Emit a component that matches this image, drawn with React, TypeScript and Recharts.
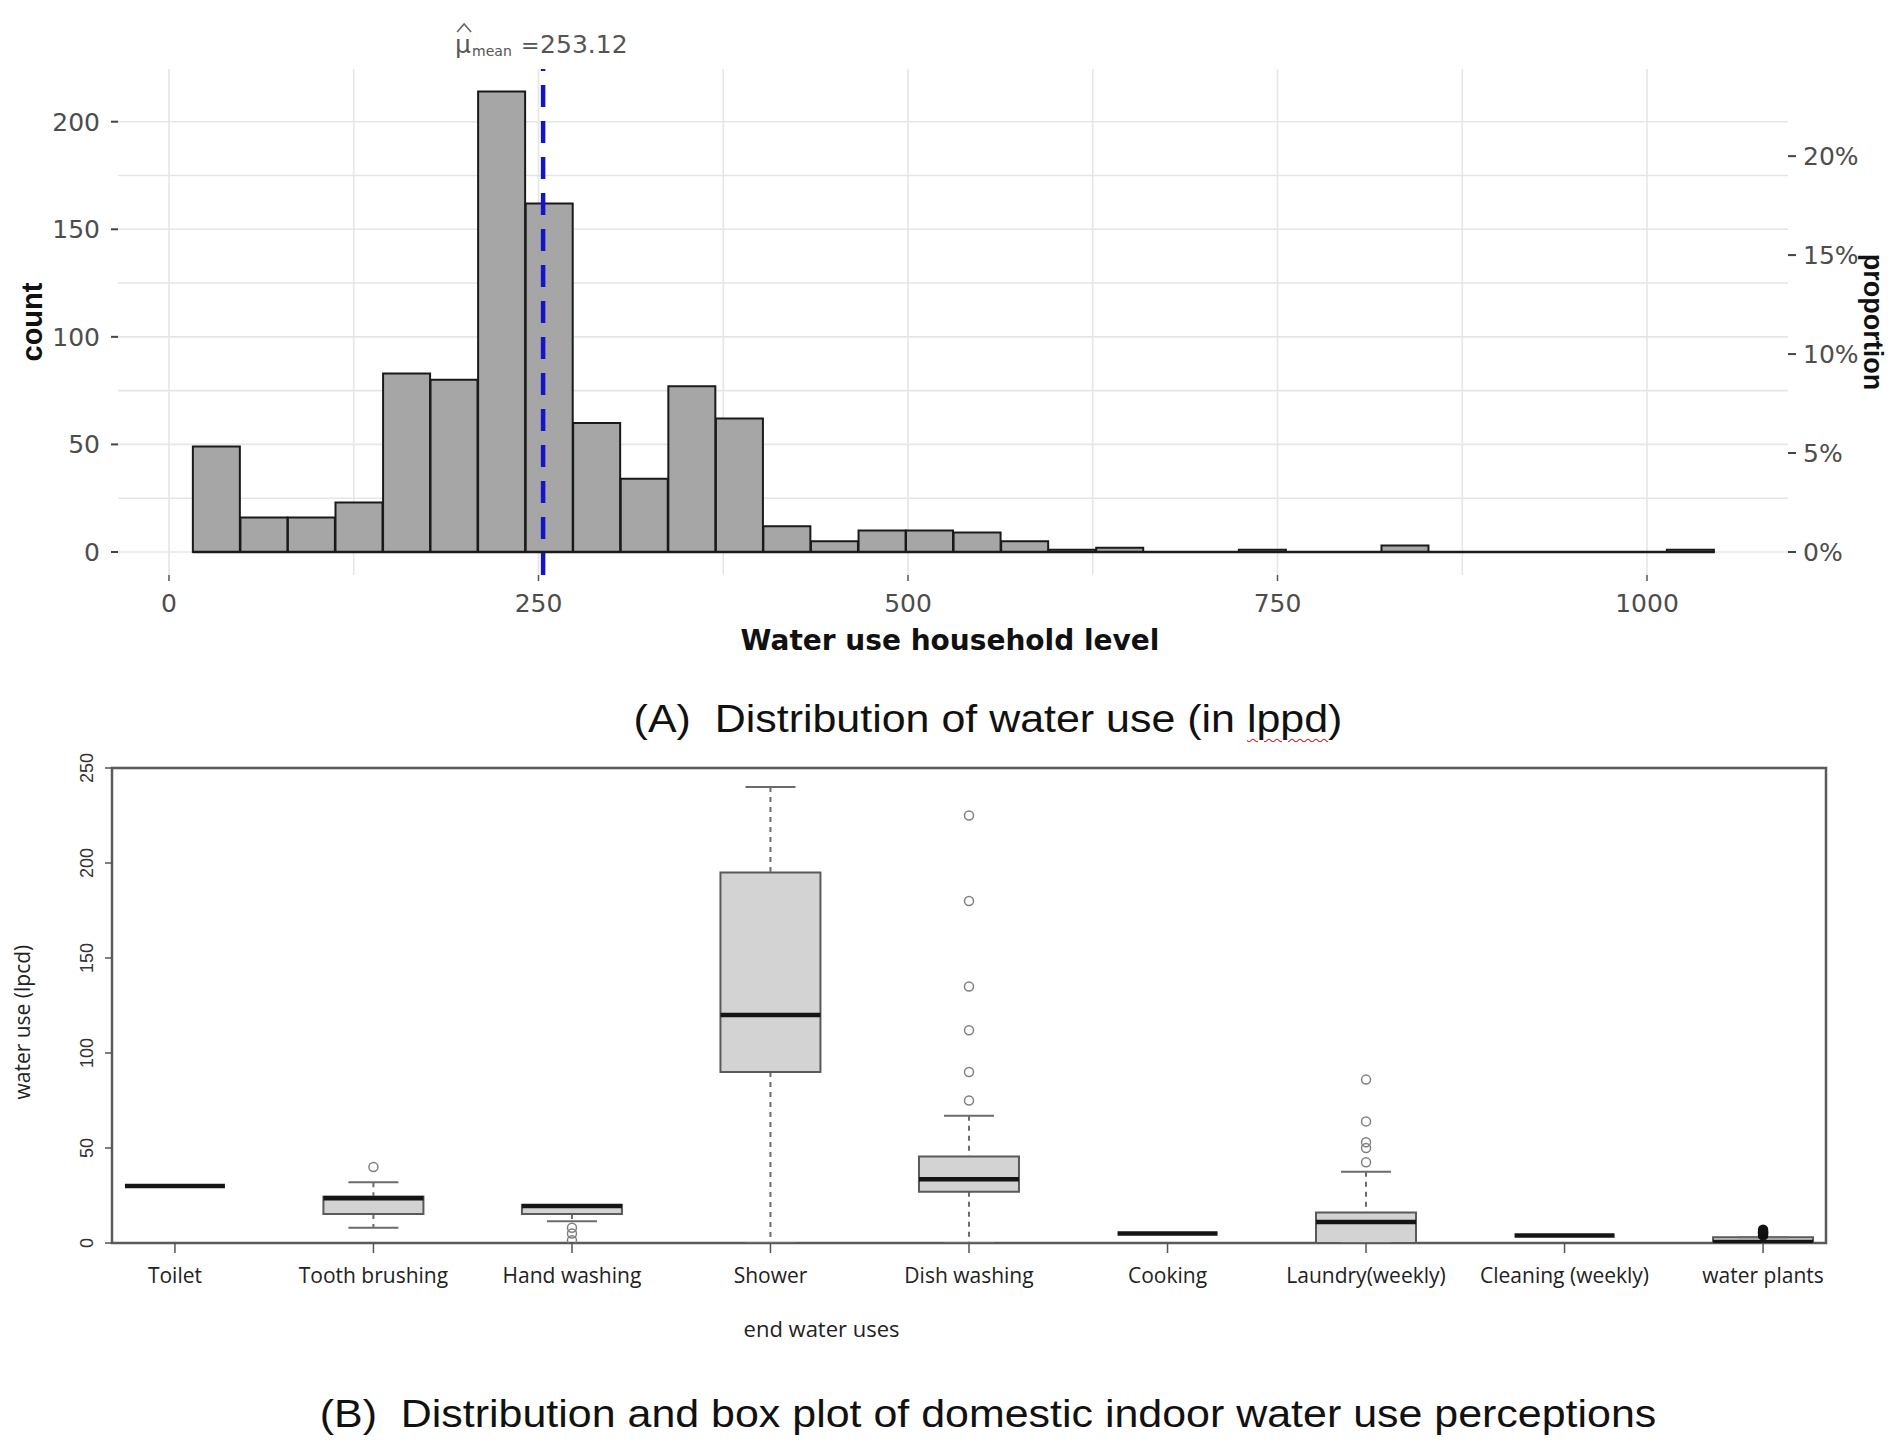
import React from 'react';
import {
  ComposedChart, Bar, Line, Scatter, XAxis, YAxis, CartesianGrid,
  ReferenceLine, ReferenceArea, Label,
} from 'recharts';

// (A) household water use histogram, 32 bins
const binMids = [32.2, 64.4, 96.5, 128.7, 160.9, 193.0, 225.2, 257.4, 289.5, 321.7, 353.9, 386.1, 418.2, 450.4, 482.6, 514.7,
  546.9, 579.1, 611.2, 643.4, 675.6, 707.8, 739.9, 772.1, 804.3, 836.4, 868.6, 900.8, 932.9, 965.1, 997.3, 1029.5];
const binCounts = [49, 16, 16, 23, 83, 80, 214, 162, 60, 34, 77, 62, 12, 5, 10, 10,
  9, 5, 1, 2, 0, 0, 1, 0, 0, 3, 0, 0, 0, 0, 0, 1];
const meanUse = 253.12;
const proportionTotal = 920; // n
const useTicks = [0, 250, 500, 750, 1000];
const useGrid = [0, 125, 250, 375, 500, 625, 750, 875, 1000];
const countTicks = [0, 50, 100, 150, 200];
const countGrid = [0, 25, 50, 75, 100, 125, 150, 175, 200];
const proportionTicks = [0, 0.05, 0.1, 0.15, 0.2];
const useDomain = [-34.5, 1095.4];
const countDomain = [-10.7, 224.5];

// (B) end uses box plot
const endUses = ['Toilet', 'Tooth brushing', 'Hand washing', 'Shower', 'Dish washing', 'Cooking', 'Laundry(weekly)', 'Cleaning (weekly)', 'water plants'];
const whiskerLow = [30, 8, 11.5, 0, 0, 5, 0, 4, 0];
const lowerQuart = [30, 15.3, 15.2, 90, 27, 5, 0, 4, 0];
const medians = [30, 23.5, 19.5, 120, 33.5, 5, 11, 4, 0.5];
const upperQuart = [30, 24.5, 20, 195, 45.5, 5, 16, 4, 3];
const whiskerHigh = [30, 32, 20, 240, 67, 5, 37.5, 4, 3];
const outliers = [[], [40], [8, 5, 1.5], [], [75, 90, 112, 135, 180, 225], [], [42.5, 50, 53, 64, 86], [], [4, 5, 5.5, 6, 7]];
const lpcdTicks = [0, 50, 100, 150, 200, 250];
const posDomain = [0.683, 9.317];

const histData = binMids.map((mid, i) => ({ mid, count: binCounts[i] }));
const binWidth = binMids[1] - binMids[0];
const histStart = binMids[0] - binWidth / 2;
const histEnd = binMids[binMids.length - 1] + binWidth / 2;

const boxRows = endUses.map((name, i) => ({
  pos: i + 1,
  name,
  base: whiskerLow[i],
  lowWhisker: lowerQuart[i] - whiskerLow[i],
  box: upperQuart[i] - lowerQuart[i],
  highWhisker: whiskerHigh[i] - upperQuart[i],
}));
const medianPts = endUses.map((_, i) => ({ pos: i + 1, v: medians[i] }));
const capPts = endUses.flatMap((_, i) => [{ pos: i + 1, v: whiskerLow[i] }, { pos: i + 1, v: whiskerHigh[i] }]);
const outlierPts = outliers.flatMap((vals, i) => vals.map((v) => ({ pos: i + 1, v })));

const gg = "'DejaVu Sans', sans-serif";
const arial = "'Liberation Sans', Arial, sans-serif";
const tickGrey = { fontFamily: gg, fontSize: 25, fill: '#4d4d4d' };

function MeanLabel({ viewBox }: any) {
  if (!viewBox) return null;
  const x = viewBox.x;
  const top = viewBox.y;
  return (
    <g fontFamily={gg} fill="#555">
      <path d={`M${x - 86},${top - 37} L${x - 79},${top - 45} L${x - 72},${top - 37}`} fill="none" stroke="#666" strokeWidth={1.6} />
      <text x={x - 88} y={top - 16} fontSize={25}>μ</text>
      <text x={x - 71} y={top - 13} fontSize={14}>mean</text>
      <text x={x - 22} y={top - 16} fontSize={22}>=</text>
      <text x={x - 3} y={top - 16} fontSize={25}>{meanUse.toFixed(2)}</text>
    </g>
  );
}

const WhiskerShape = (props: any) => {
  const { x, y, width, height } = props;
  if (!height || height <= 0) return <g />;
  const cx = x + width / 2;
  return <line x1={cx} x2={cx} y1={y} y2={y + height} stroke="#6b6b6b" strokeWidth={2} strokeDasharray="5 5" />;
};
const MedianShape = ({ cx, cy }: any) => (
  <line x1={cx - 50} x2={cx + 50} y1={cy} y2={cy} stroke="#151515" strokeWidth={4.5} />
);
const CapShape = ({ cx, cy }: any) => (
  <line x1={cx - 25} x2={cx + 25} y1={cy} y2={cy} stroke="#6b6b6b" strokeWidth={2} />
);
// the last group's outliers pile up into a dark blob in the original
const OutlierShape = ({ cx, cy, payload }: any) => {
  const dense = payload && payload.pos === endUses.length;
  return (
    <circle cx={cx} cy={cy} r={4.5} fill={dense ? '#111' : 'none'} stroke={dense ? '#111' : '#808080'} strokeWidth={1.5} />
  );
};
const RotatedTick = ({ x, y, payload }: any) => (
  <text x={x} y={y} transform={`rotate(-90, ${x}, ${y})`} textAnchor="middle" fontSize={18} fontFamily={arial} fill="#333">
    {payload.value}
  </text>
);

function Histogram() {
  return (
    <ComposedChart width={1902} height={700} data={histData} margin={{ top: 69, right: 0, bottom: 0, left: 0 }} barCategoryGap={0} barGap={0}>
      <CartesianGrid horizontalValues={countGrid} verticalValues={useGrid} stroke="#e6e6e6" strokeWidth={1.6} />
      <XAxis type="number" dataKey="mid" domain={useDomain} allowDataOverflow ticks={useTicks} interval={0}
        height={125} axisLine={false} tickLine={{ stroke: '#555', strokeWidth: 1.5 }} tickSize={6} tickMargin={13} tick={tickGrey}>
        <Label content={({ viewBox }: any) => (
          <text x={viewBox.x + viewBox.width / 2 - 3} y={viewBox.y + 75} textAnchor="middle" fontFamily={gg} fontWeight="bold" fontSize={28} fill="#111">
            Water use household level
          </text>
        )} />
      </XAxis>
      <YAxis domain={countDomain} allowDataOverflow ticks={countTicks} interval={0} width={118}
        axisLine={false} tickLine={{ stroke: '#444', strokeWidth: 2 }} tickSize={7} tickMargin={11} tick={tickGrey}>
        <Label content={({ viewBox }: any) => (
          <text x={42} y={viewBox.y + viewBox.height / 2} transform={`rotate(-90, 42, ${viewBox.y + viewBox.height / 2})`}
            textAnchor="middle" fontFamily={arial} fontWeight="bold" fontSize={29} fill="#111">count</text>
        )} />
      </YAxis>
      <YAxis yAxisId="right" orientation="right" domain={[countDomain[0] / proportionTotal, countDomain[1] / proportionTotal]}
        allowDataOverflow ticks={proportionTicks} interval={0} width={114} axisLine={false}
        tickLine={{ stroke: '#444', strokeWidth: 2 }} tickSize={8} tickMargin={7} tick={tickGrey}
        tickFormatter={(v: number) => `${Math.round(v * 100)}%`}>
        <Label content={({ viewBox }: any) => {
          const cy = viewBox.y + viewBox.height / 2;
          return (
            <text x={1864} y={cy} transform={`rotate(90, 1864, ${cy})`} textAnchor="middle"
              fontFamily={arial} fontWeight="bold" fontSize={27} fill="#111">proportion</text>
          );
        }} />
      </YAxis>
      <Bar dataKey="count" fill="#a6a6a6" stroke="#1a1a1a" strokeWidth={2} isAnimationActive={false} />
      <Line yAxisId="right" dataKey={(d: any) => d.count / proportionTotal} stroke="none" dot={false} activeDot={false} isAnimationActive={false} />
      <ReferenceLine segment={[{ x: histStart, y: 0 }, { x: histEnd, y: 0 }]} stroke="#1a1a1a" strokeWidth={2.5} />
      <ReferenceLine x={meanUse} stroke="#1414c8" strokeWidth={4.5} strokeDasharray="22 14" label={<MeanLabel />} />
    </ComposedChart>
  );
}

function BoxPlot() {
  return (
    <ComposedChart width={1902} height={680} data={boxRows} margin={{ top: 68, right: 76, bottom: 0, left: 0 }} barCategoryGap="24.8%">
      <XAxis type="number" dataKey="pos" domain={posDomain} allowDataOverflow ticks={endUses.map((_, i) => i + 1)} interval={0}
        height={137} axisLine={false} tickLine={{ stroke: '#555', strokeWidth: 1.5 }} tickSize={10} tickMargin={15}
        tick={{ fontFamily: "'Open Sans', sans-serif", fontSize: 21, fill: '#222' }}
        tickFormatter={(v: number) => endUses[v - 1]}>
        <Label content={({ viewBox }: any) => (
          <text x={viewBox.x + viewBox.width * 0.414} y={viewBox.y + 94} textAnchor="middle"
            fontFamily="'Open Sans', sans-serif" fontSize={22} fill="#222">end water uses</text>
        )} />
      </XAxis>
      <YAxis domain={[0, 250]} allowDataOverflow ticks={lpcdTicks} interval={0} width={112} axisLine={false}
        tickLine={{ stroke: '#555', strokeWidth: 1.5 }} tickSize={7} tickMargin={12} tick={<RotatedTick />}>
        <Label content={({ viewBox }: any) => {
          const cy = viewBox.y + viewBox.height * 0.535;
          return (
            <text x={30} y={cy} transform={`rotate(-90, 30, ${cy})`} textAnchor="middle"
              fontFamily="'Open Sans', sans-serif" fontSize={21} fill="#222">water use (lpcd)</text>
          );
        }} />
      </YAxis>
      <ReferenceArea x1={posDomain[0]} x2={posDomain[1]} y1={0} y2={250} fill="none" fillOpacity={0} stroke="#5a5a5a" strokeWidth={2.5} />
      <Bar dataKey="base" stackId="b" fill="transparent" isAnimationActive={false} />
      <Bar dataKey="lowWhisker" stackId="b" shape={<WhiskerShape />} isAnimationActive={false} />
      <Bar dataKey="box" stackId="b" fill="#d3d3d3" stroke="#5a5a5a" strokeWidth={2} isAnimationActive={false} />
      <Bar dataKey="highWhisker" stackId="b" shape={<WhiskerShape />} isAnimationActive={false} />
      <Scatter data={capPts} dataKey="v" shape={<CapShape />} isAnimationActive={false} />
      <Scatter data={medianPts} dataKey="v" shape={<MedianShape />} isAnimationActive={false} />
      <Scatter data={outlierPts} dataKey="v" shape={<OutlierShape />} isAnimationActive={false} />
    </ComposedChart>
  );
}

const captionStyle: React.CSSProperties = {
  position: 'absolute',
  left: 988,
  transform: 'translateX(-50%) scaleX(1.13)',
  fontFamily: "'Liberation Sans', Arial, sans-serif",
  fontSize: 38,
  lineHeight: 1,
  whiteSpace: 'nowrap',
  color: '#111',
};

export default function App() {
  return (
    <div style={{ position: 'absolute', left: 0, top: 0, width: 1902, height: 1451, background: '#fff', overflow: 'hidden' }}>
      <div style={{ position: 'absolute', left: 0, top: 0 }}>
        <Histogram />
      </div>
      <div style={{ ...captionStyle, top: 700 }}>
        (A)&nbsp; Distribution of water use (in{' '}
        <span style={{ textDecoration: 'underline wavy #d02020', textDecorationThickness: 1, textUnderlineOffset: 6 }}>lppd</span>)
      </div>
      <div style={{ position: 'absolute', left: 0, top: 700 }}>
        <BoxPlot />
      </div>
      <div style={{ ...captionStyle, top: 1395 }}>
        (B)&nbsp; Distribution and box plot of domestic indoor water use perceptions
      </div>
    </div>
  );
}
